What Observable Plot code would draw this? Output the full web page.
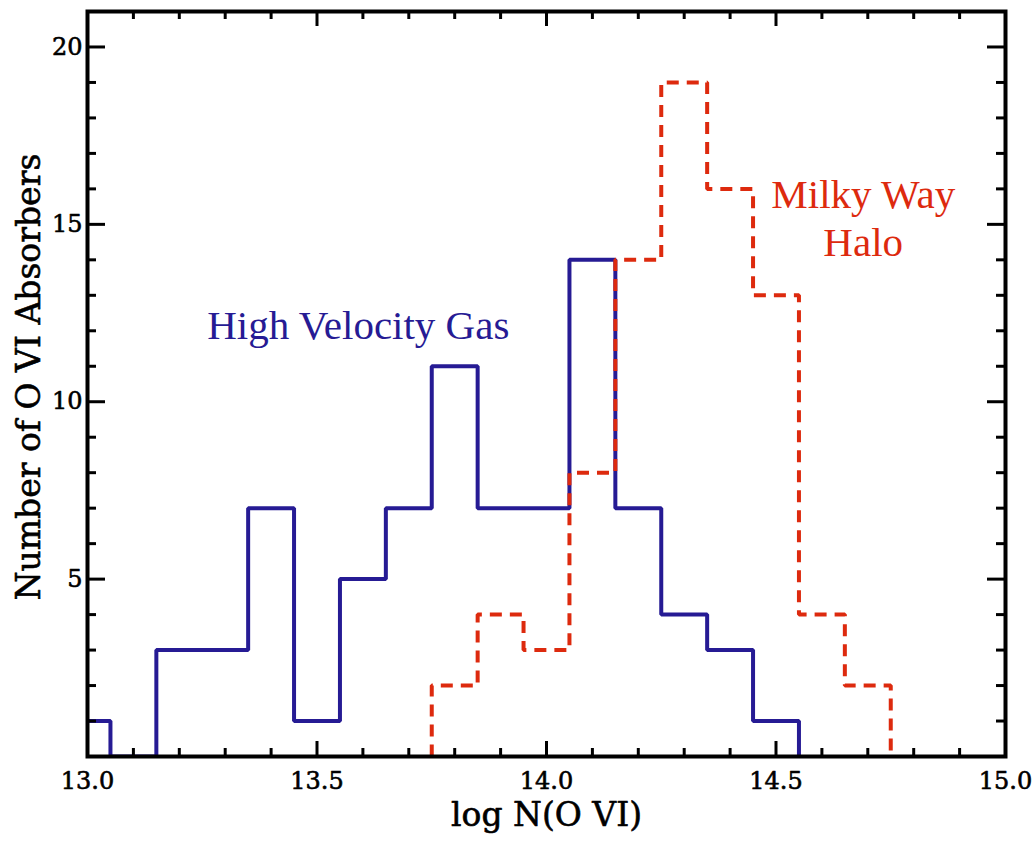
<!DOCTYPE html>
<html><head><meta charset="utf-8">
<script src="https://cdn.jsdelivr.net/npm/d3@7"></script>
<script src="https://cdn.jsdelivr.net/npm/@observablehq/plot@0.6"></script>
<style>body{margin:0;background:#fff}</style>
</head><body><div id="chart"></div>
<script>
// ---- data ----
const binWidth = 0.1;
const hvCenters = [13.0,13.1,13.2,13.3,13.4,13.5,13.6,13.7,13.8,13.9,14.0,14.1,14.2,14.3,14.4,14.5];
const hvCounts  = [1,0,3,3,7,1,5,7,11,7,7,14,7,4,3,1];
const mwCenters = [13.8,13.9,14.0,14.1,14.2,14.3,14.4,14.5,14.6,14.7];
const mwCounts  = [2,4,3,8,14,19,16,13,4,2];

const xMajorTicks = [13.0,13.5,14.0,14.5,15.0];
const xMinorTicks = [13.1,13.2,13.3,13.4,13.6,13.7,13.8,13.9,14.1,14.2,14.3,14.4,14.6,14.7,14.8,14.9];
const yMajorTicks = [5,10,15,20];
const yMinorTicks = [1,2,3,4,6,7,8,9,11,12,13,14,16,17,18,19];

const xTitle = "log N(O VI)";
const yTitle = "Number of O VI Absorbers";
const hvLabel = "High Velocity Gas";
const mwLabel = "Milky Way\nHalo";

// ---- build step outlines ----
function outline(centers, counts) {
  const h = binWidth / 2;
  const pts = [{x: +(centers[0] - h).toFixed(3), y: 0}];
  centers.forEach((c, i) => pts.push({x: +(c - h).toFixed(3), y: counts[i]}));
  pts.push({x: +(centers[centers.length - 1] + h).toFixed(3), y: 0});
  return pts;
}
const hvLine = outline(hvCenters, hvCounts);
const mwLine = outline(mwCenters, mwCounts);

const W = 1036, H = 843;
const mL = 87, mR = 31, mT = 11, mB = 87;
const pW = W - mL - mR, pH = H - mT - mB;
const BLUE = "#261b94", RED = "#dd2a0e";
const heavy = {fill: "black", stroke: "black", strokeWidth: 0.6, paintOrder: "fill"};

const chart = Plot.plot({
  width: W, height: H,
  marginLeft: mL, marginRight: mR, marginTop: mT, marginBottom: mB,
  style: {fontFamily: "DejaVu Serif", fontSize: "24px", background: "white", color: "black"},
  x: {domain: [13, 15], axis: null},
  y: {domain: [0, 21], axis: null},
  marks: [
    Plot.line(hvLine, {x: "x", y: "y", curve: "step-after", stroke: BLUE, strokeWidth: 4, strokeLinejoin: "miter", strokeLinecap: "butt", clip: true}),
    Plot.line(mwLine, {x: "x", y: "y", curve: "step-after", stroke: RED, strokeWidth: 4, strokeDasharray: "12,8", strokeLinejoin: "miter", strokeLinecap: "butt", clip: true}),
    Plot.frame({stroke: "black", strokeWidth: 4}),
    // inward ticks
    Plot.tickX(xMajorTicks, {x: d => d, insetTop: pH - 15, strokeWidth: 3}),
    Plot.tickX(xMinorTicks, {x: d => d, insetTop: pH - 8, strokeWidth: 3}),
    Plot.tickX(xMajorTicks, {x: d => d, insetBottom: pH - 15, strokeWidth: 3}),
    Plot.tickX(xMinorTicks, {x: d => d, insetBottom: pH - 8, strokeWidth: 3}),
    Plot.tickY(yMajorTicks, {y: d => d, insetRight: pW - 18, strokeWidth: 3}),
    Plot.tickY(yMinorTicks, {y: d => d, insetRight: pW - 9, strokeWidth: 3}),
    Plot.tickY(yMajorTicks, {y: d => d, insetLeft: pW - 18, strokeWidth: 3}),
    Plot.tickY(yMinorTicks, {y: d => d, insetLeft: pW - 9, strokeWidth: 3}),
    // tick labels
    Plot.text(xMajorTicks, {x: d => d, text: d => d3.format(".1f")(d), frameAnchor: "bottom", lineAnchor: "top", textAnchor: "middle", dy: 15, fontSize: 24, ...heavy}),
    Plot.text(yMajorTicks, {y: d => d, text: d => String(d), frameAnchor: "left", lineAnchor: "middle", textAnchor: "end", dx: -5, fontSize: 24, ...heavy}),
    // titles
    Plot.text([xTitle], {text: d => d, frameAnchor: "bottom", lineAnchor: "middle", textAnchor: "middle", dy: 59, fontSize: 33, ...heavy}),
    Plot.text([yTitle], {text: d => d, frameAnchor: "left", lineAnchor: "middle", textAnchor: "middle", dx: -58, dy: -7, rotate: -90, fontSize: 33, ...heavy}),
    // annotations
    Plot.text([hvLabel], {text: d => d, x: 13.59, y: 12.13, fill: BLUE, fontSize: 41, fontFamily: "Liberation Serif"}),
    Plot.text([mwLabel], {text: d => d, x: 14.69, y: 15.23, fill: RED, fontSize: 41, lineHeight: 1.17, fontFamily: "Liberation Serif"})
  ]
});
document.getElementById("chart").appendChild(chart);
</script>
</body></html>
